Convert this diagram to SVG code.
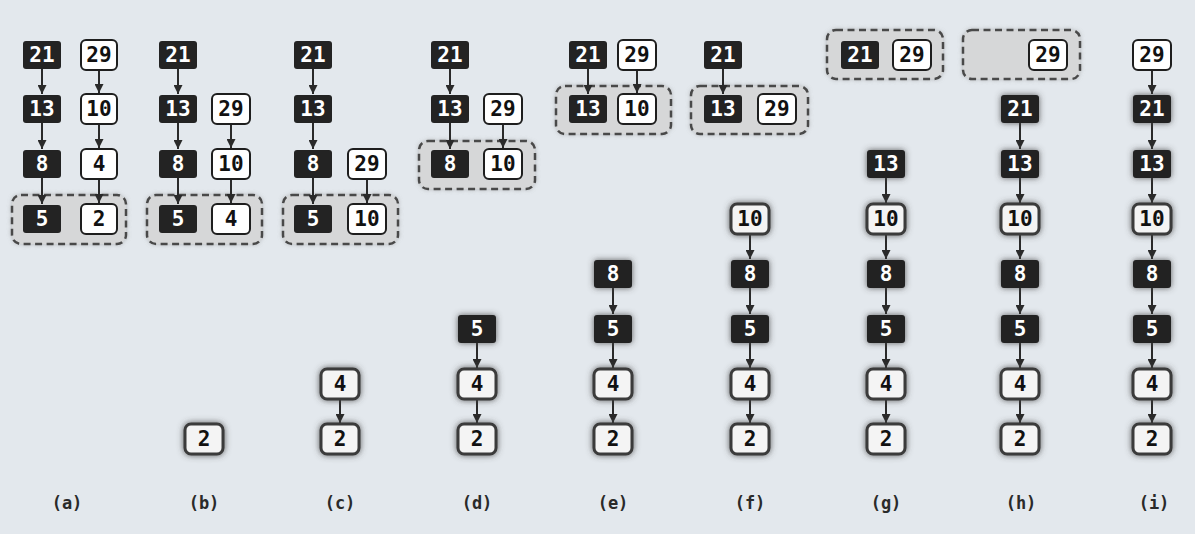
<svg xmlns="http://www.w3.org/2000/svg" width="1195" height="534" viewBox="0 0 1195 534">
<defs>
<style>
.bg{fill:#e3e8ed}
.grp{fill:#d6d7d8;stroke:#4a4a4a;stroke-width:2.5;stroke-dasharray:7 4.5;filter:url(#ghalo)}
.b{fill:#232323}
.w{fill:#ffffff;stroke:#1e1e1e;stroke-width:2}
.sb{fill:#232323;filter:url(#halo)}
.sw{fill:#f4f4f4;stroke:#3a3a3a;stroke-width:3;filter:url(#halo)}
.tb{font-family:"DejaVu Sans Mono","Liberation Mono",monospace;font-weight:bold;font-size:21px;fill:#ffffff;text-anchor:middle;dominant-baseline:central}
.tw{font-family:"DejaVu Sans Mono","Liberation Mono",monospace;font-weight:bold;font-size:21px;fill:#111111;text-anchor:middle;dominant-baseline:central}
.lbl{font-family:"DejaVu Sans Mono","Liberation Mono",monospace;font-weight:bold;font-size:17px;fill:#2a2a2a;text-anchor:middle}
.ar{stroke:#2a2a2a;stroke-width:2;fill:none;marker-end:url(#ah)}
</style>
<filter id="halo" x="-40%" y="-40%" width="180%" height="180%">
<feGaussianBlur in="SourceAlpha" stdDeviation="3" result="bl"/>
<feFlood flood-color="#444" flood-opacity="0.85"/>
<feComposite in2="bl" operator="in" result="sh"/>
<feMerge><feMergeNode in="sh"/><feMergeNode in="SourceGraphic"/></feMerge>
</filter>
<filter id="ghalo" x="-20%" y="-40%" width="140%" height="180%">
<feGaussianBlur in="SourceAlpha" stdDeviation="2" result="bl"/>
<feFlood flood-color="#888" flood-opacity="0.5"/>
<feComposite in2="bl" operator="in" result="sh"/>
<feMerge><feMergeNode in="sh"/><feMergeNode in="SourceGraphic"/></feMerge>
</filter>
<marker id="ah" viewBox="0 0 10 10" refX="10" refY="5" markerWidth="4.5" markerHeight="4.5" orient="auto" markerUnits="strokeWidth">
<path d="M0,0 L10,5 L0,10 Z" fill="#2a2a2a"/>
</marker>
</defs>
<rect class="bg" x="0" y="0" width="1195" height="534"/>

<g id="groups">
<rect class="grp" x="12" y="195" width="114" height="49" rx="9"/>
<rect class="grp" x="147" y="195" width="115" height="49" rx="9"/>
<rect class="grp" x="283" y="195" width="115" height="49" rx="9"/>
<rect class="grp" x="419" y="141" width="116" height="48" rx="9"/>
<rect class="grp" x="556" y="86" width="115" height="48" rx="9"/>
<rect class="grp" x="691" y="86" width="117" height="48" rx="9"/>
<rect class="grp" x="827" y="30" width="116" height="49" rx="9"/>
<rect class="grp" x="963" y="30" width="117" height="49" rx="9"/>
</g>

<g id="connectors">
<line class="ar" x1="42" y1="69" x2="42" y2="94"/>
<line class="ar" x1="42" y1="123" x2="42" y2="149"/>
<line class="ar" x1="42" y1="178" x2="42" y2="204"/>
<line class="ar" x1="99" y1="70" x2="99" y2="93"/>
<line class="ar" x1="99" y1="124" x2="99" y2="148"/>
<line class="ar" x1="99" y1="179" x2="99" y2="203"/>
<line class="ar" x1="178" y1="69" x2="178" y2="94"/>
<line class="ar" x1="178" y1="123" x2="178" y2="149"/>
<line class="ar" x1="178" y1="178" x2="178" y2="204"/>
<line class="ar" x1="231" y1="124" x2="231" y2="148"/>
<line class="ar" x1="231" y1="179" x2="231" y2="203"/>
<line class="ar" x1="313" y1="69" x2="313" y2="94"/>
<line class="ar" x1="313" y1="123" x2="313" y2="149"/>
<line class="ar" x1="313" y1="178" x2="313" y2="204"/>
<line class="ar" x1="367" y1="179" x2="367" y2="203"/>
<line class="ar" x1="340" y1="400" x2="340" y2="423"/>
<line class="ar" x1="450" y1="69" x2="450" y2="94"/>
<line class="ar" x1="450" y1="123" x2="450" y2="149"/>
<line class="ar" x1="503" y1="124" x2="503" y2="148"/>
<line class="ar" x1="477" y1="343" x2="477" y2="368"/>
<line class="ar" x1="477" y1="400" x2="477" y2="423"/>
<line class="ar" x1="588" y1="69" x2="588" y2="94"/>
<line class="ar" x1="637" y1="70" x2="637" y2="93"/>
<line class="ar" x1="613" y1="288" x2="613" y2="314"/>
<line class="ar" x1="613" y1="343" x2="613" y2="368"/>
<line class="ar" x1="613" y1="400" x2="613" y2="423"/>
<line class="ar" x1="723" y1="69" x2="723" y2="94"/>
<line class="ar" x1="750" y1="235" x2="750" y2="259"/>
<line class="ar" x1="750" y1="288" x2="750" y2="314"/>
<line class="ar" x1="750" y1="343" x2="750" y2="368"/>
<line class="ar" x1="750" y1="400" x2="750" y2="423"/>
<line class="ar" x1="886" y1="178" x2="886" y2="203"/>
<line class="ar" x1="886" y1="235" x2="886" y2="259"/>
<line class="ar" x1="886" y1="288" x2="886" y2="314"/>
<line class="ar" x1="886" y1="343" x2="886" y2="368"/>
<line class="ar" x1="886" y1="400" x2="886" y2="423"/>
<line class="ar" x1="1020" y1="123" x2="1020" y2="149"/>
<line class="ar" x1="1020" y1="178" x2="1020" y2="203"/>
<line class="ar" x1="1020" y1="235" x2="1020" y2="259"/>
<line class="ar" x1="1020" y1="288" x2="1020" y2="314"/>
<line class="ar" x1="1020" y1="343" x2="1020" y2="368"/>
<line class="ar" x1="1020" y1="400" x2="1020" y2="423"/>
<line class="ar" x1="1152" y1="70" x2="1152" y2="94"/>
<line class="ar" x1="1152" y1="123" x2="1152" y2="149"/>
<line class="ar" x1="1152" y1="178" x2="1152" y2="203"/>
<line class="ar" x1="1152" y1="235" x2="1152" y2="259"/>
<line class="ar" x1="1152" y1="288" x2="1152" y2="314"/>
<line class="ar" x1="1152" y1="343" x2="1152" y2="368"/>
<line class="ar" x1="1152" y1="400" x2="1152" y2="423"/>
</g>

<g id="a-21"><rect class="b" x="23" y="41" width="38" height="28" rx="3"/><text class="tb" x="42" y="55">21</text></g>
<g id="a-13"><rect class="b" x="23" y="95" width="38" height="28" rx="3"/><text class="tb" x="42" y="109">13</text></g>
<g id="a-8"><rect class="b" x="23" y="150" width="38" height="28" rx="3"/><text class="tb" x="42" y="164">8</text></g>
<g id="a-5"><rect class="b" x="23" y="205" width="38" height="28" rx="3"/><text class="tb" x="42" y="219">5</text></g>
<g id="a-29"><rect class="w" x="81" y="40" width="36" height="30" rx="5"/><text class="tw" x="99" y="55">29</text></g>
<g id="a-10"><rect class="w" x="81" y="94" width="36" height="30" rx="5"/><text class="tw" x="99" y="109">10</text></g>
<g id="a-4"><rect class="w" x="81" y="149" width="36" height="30" rx="5"/><text class="tw" x="99" y="164">4</text></g>
<g id="a-2"><rect class="w" x="81" y="204" width="36" height="30" rx="5"/><text class="tw" x="99" y="219">2</text></g>

<g id="b-21"><rect class="b" x="159" y="41" width="38" height="28" rx="3"/><text class="tb" x="178" y="55">21</text></g>
<g id="b-13"><rect class="b" x="159" y="95" width="38" height="28" rx="3"/><text class="tb" x="178" y="109">13</text></g>
<g id="b-8"><rect class="b" x="159" y="150" width="38" height="28" rx="3"/><text class="tb" x="178" y="164">8</text></g>
<g id="b-5"><rect class="b" x="159" y="205" width="38" height="28" rx="3"/><text class="tb" x="178" y="219">5</text></g>
<g id="b-29"><rect class="w" x="212" y="94" width="38" height="30" rx="5"/><text class="tw" x="231" y="109">29</text></g>
<g id="b-10"><rect class="w" x="212" y="149" width="38" height="30" rx="5"/><text class="tw" x="231" y="164">10</text></g>
<g id="b-4"><rect class="w" x="212" y="204" width="38" height="30" rx="5"/><text class="tw" x="231" y="219">4</text></g>
<g id="b-s2"><rect class="sw" x="185" y="424" width="38" height="30" rx="6"/><text class="tw" x="204" y="439">2</text></g>

<g id="c-21"><rect class="b" x="294" y="41" width="38" height="28" rx="3"/><text class="tb" x="313" y="55">21</text></g>
<g id="c-13"><rect class="b" x="294" y="95" width="38" height="28" rx="3"/><text class="tb" x="313" y="109">13</text></g>
<g id="c-8"><rect class="b" x="294" y="150" width="38" height="28" rx="3"/><text class="tb" x="313" y="164">8</text></g>
<g id="c-5"><rect class="b" x="294" y="205" width="38" height="28" rx="3"/><text class="tb" x="313" y="219">5</text></g>
<g id="c-29"><rect class="w" x="348" y="149" width="38" height="30" rx="5"/><text class="tw" x="367" y="164">29</text></g>
<g id="c-10"><rect class="w" x="348" y="204" width="38" height="30" rx="5"/><text class="tw" x="367" y="219">10</text></g>
<g id="c-s4"><rect class="sw" x="321" y="369" width="38" height="30" rx="6"/><text class="tw" x="340" y="384">4</text></g>
<g id="c-s2"><rect class="sw" x="321" y="424" width="38" height="30" rx="6"/><text class="tw" x="340" y="439">2</text></g>

<g id="d-21"><rect class="b" x="431" y="41" width="38" height="28" rx="3"/><text class="tb" x="450" y="55">21</text></g>
<g id="d-13"><rect class="b" x="431" y="95" width="38" height="28" rx="3"/><text class="tb" x="450" y="109">13</text></g>
<g id="d-8"><rect class="b" x="431" y="150" width="38" height="28" rx="3"/><text class="tb" x="450" y="164">8</text></g>
<g id="d-29"><rect class="w" x="484" y="94" width="38" height="30" rx="5"/><text class="tw" x="503" y="109">29</text></g>
<g id="d-10"><rect class="w" x="484" y="149" width="38" height="30" rx="5"/><text class="tw" x="503" y="164">10</text></g>
<g id="d-s5"><rect class="sb" x="458" y="315" width="38" height="28" rx="3"/><text class="tb" x="477" y="329">5</text></g>
<g id="d-s4"><rect class="sw" x="458" y="369" width="38" height="30" rx="6"/><text class="tw" x="477" y="384">4</text></g>
<g id="d-s2"><rect class="sw" x="458" y="424" width="38" height="30" rx="6"/><text class="tw" x="477" y="439">2</text></g>

<g id="e-21"><rect class="b" x="569" y="41" width="38" height="28" rx="3"/><text class="tb" x="588" y="55">21</text></g>
<g id="e-13"><rect class="b" x="569" y="95" width="38" height="28" rx="3"/><text class="tb" x="588" y="109">13</text></g>
<g id="e-29"><rect class="w" x="618" y="40" width="38" height="30" rx="5"/><text class="tw" x="637" y="55">29</text></g>
<g id="e-10"><rect class="w" x="618" y="94" width="38" height="30" rx="5"/><text class="tw" x="637" y="109">10</text></g>
<g id="e-s8"><rect class="sb" x="594" y="260" width="38" height="28" rx="3"/><text class="tb" x="613" y="274">8</text></g>
<g id="e-s5"><rect class="sb" x="594" y="315" width="38" height="28" rx="3"/><text class="tb" x="613" y="329">5</text></g>
<g id="e-s4"><rect class="sw" x="594" y="369" width="38" height="30" rx="6"/><text class="tw" x="613" y="384">4</text></g>
<g id="e-s2"><rect class="sw" x="594" y="424" width="38" height="30" rx="6"/><text class="tw" x="613" y="439">2</text></g>

<g id="f-21"><rect class="b" x="704" y="41" width="38" height="28" rx="3"/><text class="tb" x="723" y="55">21</text></g>
<g id="f-13"><rect class="b" x="704" y="95" width="38" height="28" rx="3"/><text class="tb" x="723" y="109">13</text></g>
<g id="f-29"><rect class="w" x="758" y="94" width="38" height="30" rx="5"/><text class="tw" x="777" y="109">29</text></g>
<g id="f-s10"><rect class="sw" x="731" y="204" width="38" height="30" rx="6"/><text class="tw" x="750" y="219">10</text></g>
<g id="f-s8"><rect class="sb" x="731" y="260" width="38" height="28" rx="3"/><text class="tb" x="750" y="274">8</text></g>
<g id="f-s5"><rect class="sb" x="731" y="315" width="38" height="28" rx="3"/><text class="tb" x="750" y="329">5</text></g>
<g id="f-s4"><rect class="sw" x="731" y="369" width="38" height="30" rx="6"/><text class="tw" x="750" y="384">4</text></g>
<g id="f-s2"><rect class="sw" x="731" y="424" width="38" height="30" rx="6"/><text class="tw" x="750" y="439">2</text></g>

<g id="g-21"><rect class="b" x="841" y="41" width="38" height="28" rx="3"/><text class="tb" x="860" y="55">21</text></g>
<g id="g-29"><rect class="w" x="893" y="40" width="38" height="30" rx="5"/><text class="tw" x="912" y="55">29</text></g>
<g id="g-s13"><rect class="sb" x="867" y="150" width="38" height="28" rx="3"/><text class="tb" x="886" y="164">13</text></g>
<g id="g-s10"><rect class="sw" x="867" y="204" width="38" height="30" rx="6"/><text class="tw" x="886" y="219">10</text></g>
<g id="g-s8"><rect class="sb" x="867" y="260" width="38" height="28" rx="3"/><text class="tb" x="886" y="274">8</text></g>
<g id="g-s5"><rect class="sb" x="867" y="315" width="38" height="28" rx="3"/><text class="tb" x="886" y="329">5</text></g>
<g id="g-s4"><rect class="sw" x="867" y="369" width="38" height="30" rx="6"/><text class="tw" x="886" y="384">4</text></g>
<g id="g-s2"><rect class="sw" x="867" y="424" width="38" height="30" rx="6"/><text class="tw" x="886" y="439">2</text></g>

<g id="h-29"><rect class="w" x="1029" y="40" width="38" height="30" rx="5"/><text class="tw" x="1048" y="55">29</text></g>
<g id="h-s21"><rect class="sb" x="1001" y="95" width="38" height="28" rx="3"/><text class="tb" x="1020" y="109">21</text></g>
<g id="h-s13"><rect class="sb" x="1001" y="150" width="38" height="28" rx="3"/><text class="tb" x="1020" y="164">13</text></g>
<g id="h-s10"><rect class="sw" x="1001" y="204" width="38" height="30" rx="6"/><text class="tw" x="1020" y="219">10</text></g>
<g id="h-s8"><rect class="sb" x="1001" y="260" width="38" height="28" rx="3"/><text class="tb" x="1020" y="274">8</text></g>
<g id="h-s5"><rect class="sb" x="1001" y="315" width="38" height="28" rx="3"/><text class="tb" x="1020" y="329">5</text></g>
<g id="h-s4"><rect class="sw" x="1001" y="369" width="38" height="30" rx="6"/><text class="tw" x="1020" y="384">4</text></g>
<g id="h-s2"><rect class="sw" x="1001" y="424" width="38" height="30" rx="6"/><text class="tw" x="1020" y="439">2</text></g>

<g id="i-29"><rect class="w" x="1133" y="40" width="38" height="30" rx="5"/><text class="tw" x="1152" y="55">29</text></g>
<g id="i-s21"><rect class="sb" x="1133" y="95" width="38" height="28" rx="3"/><text class="tb" x="1152" y="109">21</text></g>
<g id="i-s13"><rect class="sb" x="1133" y="150" width="38" height="28" rx="3"/><text class="tb" x="1152" y="164">13</text></g>
<g id="i-s10"><rect class="sw" x="1133" y="204" width="38" height="30" rx="6"/><text class="tw" x="1152" y="219">10</text></g>
<g id="i-s8"><rect class="sb" x="1133" y="260" width="38" height="28" rx="3"/><text class="tb" x="1152" y="274">8</text></g>
<g id="i-s5"><rect class="sb" x="1133" y="315" width="38" height="28" rx="3"/><text class="tb" x="1152" y="329">5</text></g>
<g id="i-s4"><rect class="sw" x="1133" y="369" width="38" height="30" rx="6"/><text class="tw" x="1152" y="384">4</text></g>
<g id="i-s2"><rect class="sw" x="1133" y="424" width="38" height="30" rx="6"/><text class="tw" x="1152" y="439">2</text></g>

<g id="labels">
<text class="lbl" x="67" y="509">(a)</text>
<text class="lbl" x="204" y="509">(b)</text>
<text class="lbl" x="340" y="509">(c)</text>
<text class="lbl" x="477" y="509">(d)</text>
<text class="lbl" x="613" y="509">(e)</text>
<text class="lbl" x="750" y="509">(f)</text>
<text class="lbl" x="886" y="509">(g)</text>
<text class="lbl" x="1021" y="509">(h)</text>
<text class="lbl" x="1154" y="509">(i)</text>
</g>
</svg>
